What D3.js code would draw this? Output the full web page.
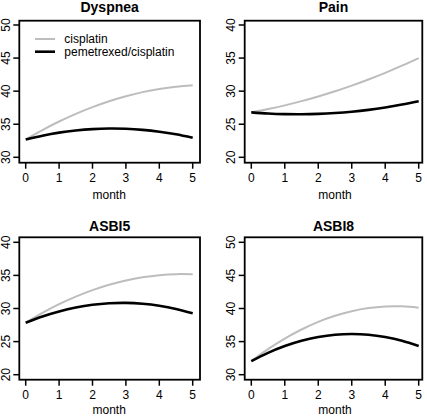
<!DOCTYPE html>
<html>
<head>
<meta charset="utf-8">
<script src="https://cdn.jsdelivr.net/npm/d3@7"></script>
<style>
  html, body { margin: 0; padding: 0; background: #fff; }
  svg { display: block; font-family: "Liberation Sans", Arial, Helvetica, sans-serif; }
</style>
</head>
<body>
<svg id="chart" width="427" height="416"></svg>
<script>
// ---- data ----
const months = [0, 0.5, 1, 1.5, 2, 2.5, 3, 3.5, 4, 4.5, 5];
const xTicks = [0, 1, 2, 3, 4, 5];

const titles = ["Dyspnea", "Pain", "ASBI5", "ASBI8"];
const seriesNames = ["cisplatin", "pemetrexed/cisplatin"];

const dyspneaCis = [32.7, 34.12, 35.41, 36.57, 37.59, 38.48, 39.23, 39.85, 40.33, 40.68, 40.9];
const dyspneaPem = [32.7, 33.27, 33.73, 34.05, 34.26, 34.35, 34.31, 34.15, 33.87, 33.47, 32.94];

const painCis = [26.8, 27.29, 27.85, 28.49, 29.2, 29.98, 30.84, 31.77, 32.77, 33.85, 35.0];
const painPem = [26.8, 26.62, 26.52, 26.5, 26.56, 26.69, 26.89, 27.17, 27.53, 27.97, 28.48];

const asbi5Cis = [27.85, 29.33, 30.65, 31.79, 32.78, 33.59, 34.24, 34.72, 35.04, 35.19, 35.17];
const asbi5Pem = [27.85, 28.8, 29.56, 30.15, 30.56, 30.79, 30.85, 30.72, 30.42, 29.94, 29.28];

const asbi8Cis = [32.05, 33.87, 35.46, 36.83, 37.98, 38.9, 39.59, 40.06, 40.31, 40.33, 40.13];
const asbi8Pem = [32.05, 33.3, 34.33, 35.13, 35.69, 36.04, 36.15, 36.04, 35.69, 35.13, 34.33];

const yTicksDyspnea = [30, 35, 40, 45, 50];
const yTicksPain = [20, 25, 30, 35, 40];
const yTicksAsbi5 = [20, 25, 30, 35, 40];
const yTicksAsbi8 = [30, 35, 40, 45, 50];

// ---- layout ----
const panels = [
  { title: titles[0], cis: dyspneaCis, pem: dyspneaPem, yTicks: yTicksDyspnea,
    box: { l: 19.3, r: 200, t: 20.7, b: 162.7 }, xr: [25.7, 192.7], yr: [157.3, 25], titleY: 11.7, labY: 198.7, legend: true },
  { title: titles[1], cis: painCis, pem: painPem, yTicks: yTicksPain,
    box: { l: 244.7, r: 422.3, t: 20.7, b: 162.7 }, xr: [251.3, 418.7], yr: [157.3, 25], titleY: 11.7, labY: 198.7 },
  { title: titles[2], cis: asbi5Cis, pem: asbi5Pem, yTicks: yTicksAsbi5,
    box: { l: 19.3, r: 200, t: 237.3, b: 379.7 }, xr: [25.7, 192.7], yr: [374.7, 242.3], titleY: 230.7, labY: 413.5 },
  { title: titles[3], cis: asbi8Cis, pem: asbi8Pem, yTicks: yTicksAsbi8,
    box: { l: 244.7, r: 422.3, t: 237.3, b: 379.7 }, xr: [251.3, 418.7], yr: [374.7, 242.3], titleY: 231.3, labY: 413.5 }
];

const grey = "#bdbdbd";
const svg = d3.select("#chart");
const tickLen = 6;

panels.forEach(p => {
  const g = svg.append("g");
  const yMin = d3.min(p.yTicks), yMax = d3.max(p.yTicks);
  const x = d3.scaleLinear().domain([0, 5]).range(p.xr);
  const y = d3.scaleLinear().domain([yMin, yMax]).range(p.yr);

  // lines
  const line = d3.line()
    .x((d, i) => x(months[i]))
    .y(d => y(d))
    .curve(d3.curveNatural);

  g.append("path").datum(p.cis)
    .attr("d", line).attr("fill", "none")
    .attr("stroke", grey).attr("stroke-width", 2);
  g.append("path").datum(p.pem)
    .attr("d", line).attr("fill", "none")
    .attr("stroke", "#000").attr("stroke-width", 2.6);

  // box
  g.append("rect")
    .attr("x", p.box.l).attr("y", p.box.t)
    .attr("width", p.box.r - p.box.l).attr("height", p.box.b - p.box.t)
    .attr("fill", "none").attr("stroke", "#000").attr("stroke-width", 1.8);

  // x ticks
  xTicks.forEach(v => {
    g.append("line")
      .attr("x1", x(v)).attr("x2", x(v))
      .attr("y1", p.box.b).attr("y2", p.box.b + tickLen)
      .attr("stroke", "#000").attr("stroke-width", 1.5);
    g.append("text")
      .attr("x", x(v)).attr("y", p.box.b + 19.5)
      .attr("text-anchor", "middle").attr("font-size", 12)
      .text(v);
  });

  // y ticks
  p.yTicks.forEach(v => {
    g.append("line")
      .attr("x1", p.box.l).attr("x2", p.box.l - tickLen)
      .attr("y1", y(v)).attr("y2", y(v))
      .attr("stroke", "#000").attr("stroke-width", 1.5);
    g.append("text")
      .attr("transform", `translate(${p.box.l - 9.3},${y(v)}) rotate(-90)`)
      .attr("text-anchor", "middle").attr("font-size", 12)
      .text(v);
  });

  // title
  g.append("text")
    .attr("x", (p.box.l + p.box.r) / 2).attr("y", p.titleY)
    .attr("text-anchor", "middle").attr("font-size", 14).attr("font-weight", "bold")
    .text(p.title);

  // x axis label
  g.append("text")
    .attr("x", (p.xr[0] + p.xr[1]) / 2).attr("y", p.labY)
    .attr("text-anchor", "middle").attr("font-size", 12)
    .text("month");

  // legend
  if (p.legend) {
    const items = [
      { name: seriesNames[0], color: grey, w: 2 },
      { name: seriesNames[1], color: "#000", w: 2.6 }
    ];
    items.forEach((it, i) => {
      const ly = 39 + i * 12.7;
      g.append("line")
        .attr("x1", 35).attr("x2", 55).attr("y1", ly).attr("y2", ly)
        .attr("stroke", it.color).attr("stroke-width", it.w);
      g.append("text")
        .attr("x", 64.3).attr("y", ly + 4.3)
        .attr("font-size", 12)
        .text(it.name);
    });
  }
});
</script>
</body>
</html>
